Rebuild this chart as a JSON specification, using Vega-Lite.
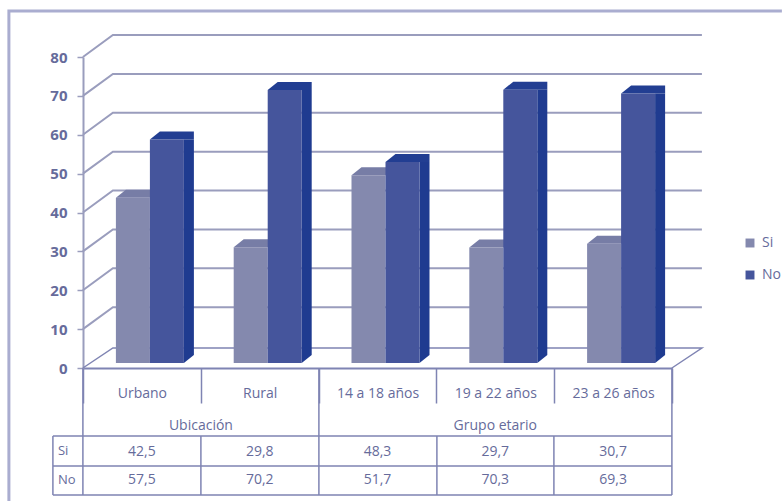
{
"$schema":"https://vega.github.io/schema/vega-lite/v6.json",
"width":589,"height":311,
"padding":{"left":83,"top":57,"right":110,"bottom":133},
"autosize":{"type":"none"},
"background":"white",
"config":{"locale":{"number":{"decimal":",","thousands":".","grouping":[3],"currency":["","€"]}},"view":{"stroke":null},"font":"Open Sans",
 "axisY":{"title":null,"values":[0,10,20,30,40,50,60,70,80],"tickCount":9,"labelOverlap":false,"grid":false,"labelFontSize":15,"labelFontWeight":"bold","labelColor":"#666b9b","labelPadding":10,"tickColor":"#9a9dbd","tickSize":6,"tickWidth":1.5,"domainColor":"#9a9dbd","domainWidth":2,"labelFont":"Open Sans"}},
"datasets":{
"d":[
{"categoria":"Urbano","grupo":"Ubicación","serie":"Si","valor":42.5},
{"categoria":"Urbano","grupo":"Ubicación","serie":"No","valor":57.5},
{"categoria":"Rural","grupo":"Ubicación","serie":"Si","valor":29.8},
{"categoria":"Rural","grupo":"Ubicación","serie":"No","valor":70.2},
{"categoria":"14 a 18 años","grupo":"Grupo etario","serie":"Si","valor":48.3},
{"categoria":"14 a 18 años","grupo":"Grupo etario","serie":"No","valor":51.7},
{"categoria":"19 a 22 años","grupo":"Grupo etario","serie":"Si","valor":29.7},
{"categoria":"19 a 22 años","grupo":"Grupo etario","serie":"No","valor":70.3},
{"categoria":"23 a 26 años","grupo":"Grupo etario","serie":"Si","valor":30.7},
{"categoria":"23 a 26 años","grupo":"Grupo etario","serie":"No","valor":69.3}
],
"t":[{"v":10},{"v":20},{"v":30},{"v":40},{"v":50},{"v":60},{"v":70},{"v":80}],
"g":[{"nombre":"Ubicación","categoria":"Urbano","s":"Si"},{"nombre":"Grupo etario","categoria":"19 a 22 años","s":"No"}]
},
"layer":[
{"data":{"name":"t"},"mark":{"type":"point","shape":"M-59,0 L-29,-22 L560,-22","size":4,"filled":false,"opacity":1,"stroke":"#9a9dbd","strokeWidth":2},
 "encoding":{"x":{"datum":"Urbano","type":"nominal","scale":{"type":"band","domain":["Urbano","Rural","14 a 18 años","19 a 22 años","23 a 26 años"],"padding":0},
   "axis":{"title":null,"labelAngle":0,"labelFontSize":14,"labelColor":"#666b9b","labelPadding":-10,"labelBaseline":"middle","tickBand":"extent","tickSize":35,"tickColor":"#7f84b3","tickWidth":1.5,"domainColor":"#7f84b3","domainWidth":2,"labelFont":"Open Sans"}},
  "y":{"field":"v","type":"quantitative","scale":{"domain":[0,80],"nice":false},
   "axis":{"title":null,"values":[0,10,20,30,40,50,60,70,80],"tickCount":9,"labelOverlap":false}}}},
{"data":{"values":[{"marco":"borde"}]},"mark":{"type":"point","shape":"M-59,0 L-29,-20 L560,-20 L530,0 M-89,68 L530,68 M-89,98 L530,98 M-89,127 L530,127 M-89,68 L-89,127 M-59,0 L-59,127 M59,68 L59,127 M177,0 L177,127 M295,68 L295,127 M412,68 L412,127 M530,0 L530,127","size":4,"filled":false,"opacity":1,"stroke":"#7f84b3","strokeWidth":1.5},
 "encoding":{"x":{"datum":"Urbano","type":"nominal"},"y":{"datum":0,"type":"quantitative"}}},
{"data":{"values":[{"marco":"borde"}]},"mark":{"type":"point","shape":"M-133,133 L-133,-357 L640,-357","size":4,"filled":false,"opacity":1,"stroke":"#aaadd0","strokeWidth":3},
 "encoding":{"x":{"datum":"Urbano","type":"nominal"},"y":{"datum":0,"type":"quantitative"}}},
{"data":{"name":"d"},"transform":[{"filter":"datum.serie==='Si'"}],"mark":{"type":"point","shape":"M-26,-5 L8,-5 L18,-13 L-16,-13 Z","size":4,"filled":true,"opacity":1,"strokeWidth":0,"color":"#777da6"},
 "encoding":{"x":{"field":"categoria","type":"nominal"},"y":{"field":"valor","type":"quantitative"}}},
{"data":{"name":"d"},"transform":[{"filter":"datum.serie==='Si'"}],"mark":{"type":"bar","width":34,"xOffset":-9,"yOffset":-5,"y2Offset":-5},
 "encoding":{"x":{"field":"categoria","type":"nominal"},"y":{"field":"valor","type":"quantitative"},"y2":{"datum":0},
  "color":{"field":"serie","type":"nominal","scale":{"domain":["Si","No"],"range":["#8489ae","#45559c"]},
   "legend":{"title":null,"orient":"none","legendX":660,"legendY":179,"symbolType":"square","symbolSize":80,"labelFontSize":14,"labelColor":"#666b9b","labelFont":"Open Sans","rowPadding":18,"labelOffset":5}}}},
{"data":{"name":"d"},"transform":[{"filter":"datum.serie==='No'"}],"mark":{"type":"bar","width":10,"xOffset":47,"yOffset":-5,"y2Offset":-13,"color":"#1f3b90"},
 "encoding":{"x":{"field":"categoria","type":"nominal"},"y":{"field":"valor","type":"quantitative"},"y2":{"datum":0}}},
{"data":{"name":"d"},"transform":[{"filter":"datum.serie==='No'"}],"mark":{"type":"point","shape":"M42,-5 L52,-13 L42,-13 Z","size":4,"filled":true,"opacity":1,"strokeWidth":0,"color":"#1f3b90"},
 "encoding":{"x":{"field":"categoria","type":"nominal"},"y":{"datum":0,"type":"quantitative"},"detail":{"field":"categoria"}}},
{"data":{"name":"d"},"transform":[{"filter":"datum.serie==='No'"}],"mark":{"type":"point","shape":"M8,-5 L42,-5 L52,-5 L52,-13 L18,-13 Z","size":4,"filled":true,"opacity":1,"strokeWidth":0,"color":"#223e92"},
 "encoding":{"x":{"field":"categoria","type":"nominal"},"y":{"field":"valor","type":"quantitative"}}},
{"data":{"name":"d"},"transform":[{"filter":"datum.serie==='No'"}],"mark":{"type":"bar","width":34,"xOffset":25,"yOffset":-5,"y2Offset":-5},
 "encoding":{"x":{"field":"categoria","type":"nominal"},"y":{"field":"valor","type":"quantitative"},"y2":{"datum":0},
  "color":{"field":"serie","type":"nominal"}}},
{"data":{"name":"d"},"transform":[{"filter":"datum.serie==='Si'"}],"mark":{"type":"text","dy":84,"fontSize":14,"color":"#666b9b","font":"Open Sans"},
 "encoding":{"x":{"field":"categoria","type":"nominal"},"y":{"datum":0,"type":"quantitative"},"text":{"field":"valor","type":"quantitative","format":".1f"}}},
{"data":{"name":"d"},"transform":[{"filter":"datum.serie==='No'"}],"mark":{"type":"text","dy":112,"fontSize":14,"color":"#666b9b","font":"Open Sans"},
 "encoding":{"x":{"field":"categoria","type":"nominal"},"y":{"datum":0,"type":"quantitative"},"text":{"field":"valor","type":"quantitative","format":".1f"}}},
{"data":{"name":"g"},"transform":[{"filter":"datum.s==='Si'"}],"mark":{"type":"text","dy":58,"dx":59,"fontSize":14,"color":"#666b9b","font":"Open Sans"},
 "encoding":{"x":{"field":"categoria","type":"nominal"},"y":{"datum":0,"type":"quantitative"},"text":{"field":"nombre"}}},
{"data":{"name":"g"},"transform":[{"filter":"datum.s==='No'"}],"mark":{"type":"text","dy":58,"fontSize":14,"color":"#666b9b","font":"Open Sans"},
 "encoding":{"x":{"field":"categoria","type":"nominal"},"y":{"datum":0,"type":"quantitative"},"text":{"field":"nombre"}}},
{"data":{"values":[{"serie":"Si"}]},"mark":{"type":"text","dy":83,"dx":-84,"align":"left","fontSize":13,"color":"#666b9b","font":"Open Sans"},
 "encoding":{"x":{"datum":"Urbano","type":"nominal"},"y":{"datum":0,"type":"quantitative"},"text":{"field":"serie"}}},
{"data":{"values":[{"serie":"No"}]},"mark":{"type":"text","dy":112,"dx":-84,"align":"left","fontSize":13,"color":"#666b9b","font":"Open Sans"},
 "encoding":{"x":{"datum":"Urbano","type":"nominal"},"y":{"datum":0,"type":"quantitative"},"text":{"field":"serie"}}}
]
}
